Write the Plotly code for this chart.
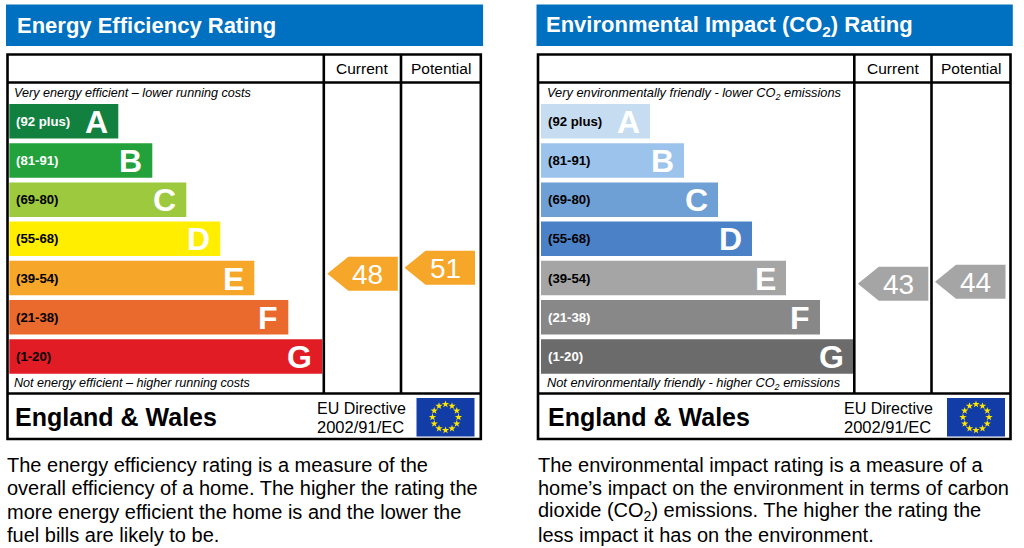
import plotly.graph_objects as go
import math

# ---------------- data ----------------
bands = ["A", "B", "C", "D", "E", "F", "G"]
band_labels = ["(92 plus)", "(81-91)", "(69-80)", "(55-68)", "(39-54)", "(21-38)", "(1-20)"]
band_low = [92, 81, 69, 55, 39, 21, 1]
band_high = [100, 91, 80, 68, 54, 38, 20]
energy_colors = ["#12813f", "#23a13b", "#9cc93d", "#ffee00", "#f6a629", "#ea6a2d", "#e21c25"]
env_colors = ["#c6dcf1", "#9cc3eb", "#6ea0d6", "#4b81c6", "#a5a5a5", "#888888", "#6b6b6b"]
energy_label_colors = ["white", "white", "black", "black", "black", "black", "black"]
env_label_colors = ["black", "black", "black", "black", "black", "white", "white"]
energy_current = 48
energy_potential = 51
env_current = 43
env_potential = 44

energy_title = "<b>Energy Efficiency Rating</b>"
env_title = "<b>Environmental Impact (CO<sub>2</sub>) Rating</b>"
energy_top_note = "<i>Very energy efficient – lower running costs</i>"
energy_bottom_note = "<i>Not energy efficient – higher running costs</i>"
env_top_note = "<i>Very environmentally friendly - lower CO<sub>2</sub> emissions</i>"
env_bottom_note = "<i>Not environmentally friendly - higher CO<sub>2</sub> emissions</i>"
column_headers = ["Current", "Potential"]
footer_region = "<b>England & Wales</b>"
footer_directive = ["EU Directive", "2002/91/EC"]
energy_text = [
    "The energy efficiency rating is a measure of the",
    "overall efficiency of a home. The higher the rating the",
    "more energy efficient the home is and the lower the",
    "fuel bills are likely to be.",
]
env_text = [
    "The environmental impact rating is a measure of a",
    "home’s impact on the environment in terms of carbon",
    "dioxide (CO<sub>2</sub>) emissions. The higher the rating the",
    "less impact it has on the environment.",
]

# ---------------- layout geometry (style) ----------------
W, H = 1024, 548
FONT = "Liberation Sans, Arial, sans-serif"
BLUE = "#0070c0"
FLAG = "#123da6"
TABLE_TOP, HEADER_BOT, FOOT_TOP, TABLE_BOT = 54.5, 82.5, 393.5, 439
BAND_TOP0, BAND_PITCH, BAND_H = 104, 39.2, 34.5
BAR_W0, BAR_WSTEP = 109, 34
ARROW_W, ARROW_TIP, ARROW_H = 70.5, 21, 34
LW = 2.6

panels = [
    dict(x0=7.5, x1=480.8, bar_left=9.3, colors=energy_colors, lab_colors=energy_label_colors,
         cur=energy_current, pot=energy_potential, title=energy_title,
         top=energy_top_note, bot=energy_bottom_note, text=energy_text,
         region_dx=5.5, dir_dx=307.5, note_dx=4, note_size=12.6, title_dx=7.5),
    dict(x0=538, x1=1010.5, bar_left=541, colors=env_colors, lab_colors=env_label_colors,
         cur=env_current, pot=env_potential, title=env_title,
         top=env_top_note, bot=env_bottom_note, text=env_text,
         region_dx=8, dir_dx=304, note_dx=6.5, note_size=12.8, title_dx=6),
]


def band_of(v):
    for i, (lo, hi) in enumerate(zip(band_low, band_high)):
        if lo <= v <= hi:
            return i
    return len(bands) - 1


def score_y(v):
    i = band_of(v)
    lo, hi = band_low[i], band_high[i]
    top = BAND_TOP0 + BAND_PITCH * i
    return top + 1 + (hi - v) / (hi - lo) * (BAND_H - 4.5)


fig = go.Figure()
shapes = []
ann = []

for p in panels:
    x0, x1 = p["x0"], p["x1"]
    col1, col2 = x0 + 316.3, x0 + 393.5
    # title bar
    shapes.append(dict(type="rect", x0=x0 - 1.5, x1=x1 + 2.3, y0=4.5, y1=46, fillcolor=BLUE,
                       line=dict(width=0), layer="below"))
    ann.append(dict(x=x0 + p["title_dx"], y=25.5, text=p["title"], xanchor="left", yanchor="middle",
                    showarrow=False, font=dict(family=FONT, size=22, color="white")))
    # table frame
    shapes.append(dict(type="rect", x0=x0, x1=x1, y0=TABLE_TOP, y1=TABLE_BOT,
                       line=dict(color="black", width=LW)))
    shapes.append(dict(type="line", x0=x0, x1=x1, y0=HEADER_BOT, y1=HEADER_BOT,
                       line=dict(color="black", width=LW)))
    shapes.append(dict(type="line", x0=x0, x1=x1, y0=FOOT_TOP, y1=FOOT_TOP,
                       line=dict(color="black", width=LW)))
    for cx in (col1, col2):
        shapes.append(dict(type="line", x0=cx, x1=cx, y0=TABLE_TOP, y1=FOOT_TOP,
                           line=dict(color="black", width=LW)))
    for hdr, cx in zip(column_headers, (col1, col2)):
        nxt = col2 if cx == col1 else x1
        ann.append(dict(x=(cx + nxt) / 2, y=68.5, text=hdr, showarrow=False,
                        xanchor="center", yanchor="middle",
                        font=dict(family=FONT, size=15.5, color="black")))
    # notes
    ann.append(dict(x=x0 + p["note_dx"], y=93, text=p["top"], xanchor="left", yanchor="middle",
                    showarrow=False, font=dict(family=FONT, size=p["note_size"], color="black")))
    ann.append(dict(x=x0 + p["note_dx"], y=383, text=p["bot"], xanchor="left", yanchor="middle",
                    showarrow=False, font=dict(family=FONT, size=p["note_size"], color="black")))

    # bands
    centers = [BAND_TOP0 + BAND_PITCH * i + BAND_H / 2 for i in range(len(bands))]
    widths = [BAR_W0 + BAR_WSTEP * i for i in range(len(bands))]
    fig.add_trace(go.Bar(orientation="h", y=centers, x=widths, base=[p["bar_left"]] * len(bands),
                         width=BAND_H, marker=dict(color=p["colors"], line=dict(width=0)),
                         hoverinfo="skip", showlegend=False))
    for i, b in enumerate(bands):
        ann.append(dict(x=p["bar_left"] + 5, y=centers[i], text="<b>%s</b>" % band_labels[i],
                        xanchor="left", yanchor="middle", showarrow=False,
                        font=dict(family=FONT, size=13.2, color=p["lab_colors"][i])))
        ann.append(dict(x=p["bar_left"] + widths[i] - 8, y=centers[i] + 0.5, text="<b>%s</b>" % b,
                        xanchor="right", yanchor="middle", showarrow=False,
                        font=dict(family=FONT, size=32, color="white")))

    # arrows
    for val, cx in ((p["cur"], col1), (p["pot"], col2)):
        yc = score_y(val)
        left = cx + 3.5
        right = left + ARROW_W
        xs = [left, left + ARROW_TIP, right, right, left + ARROW_TIP, left]
        ys = [yc, yc - ARROW_H / 2, yc - ARROW_H / 2, yc + ARROW_H / 2, yc + ARROW_H / 2, yc]
        fig.add_trace(go.Scatter(x=xs, y=ys, mode="lines", fill="toself",
                                 fillcolor=p["colors"][band_of(val)], line=dict(width=0),
                                 hoverinfo="skip", showlegend=False))
        ann.append(dict(x=left + 40.5, y=yc + 0.5, text=str(val), xanchor="center", yanchor="middle",
                        showarrow=False, font=dict(family=FONT, size=28, color="white")))

    # footer
    ann.append(dict(x=x0 + p["region_dx"], y=417, text=footer_region, xanchor="left", yanchor="middle",
                    showarrow=False, font=dict(family=FONT, size=25, color="black")))
    ann.append(dict(x=x0 + p["dir_dx"], y=408.5, text=footer_directive[0], xanchor="left",
                    yanchor="middle", showarrow=False, font=dict(family=FONT, size=16, color="black")))
    ann.append(dict(x=x0 + p["dir_dx"], y=426.5, text=footer_directive[1], xanchor="left",
                    yanchor="middle", showarrow=False, font=dict(family=FONT, size=16.5, color="black")))
    fx0, fx1, fy0, fy1 = x0 + 409, x0 + 467, 398, 436.5
    shapes.append(dict(type="rect", x0=fx0, x1=fx1, y0=fy0, y1=fy1, fillcolor=FLAG,
                       line=dict(width=0), layer="below"))
    fcx, fcy = (fx0 + fx1) / 2, (fy0 + fy1) / 2
    sx = [fcx + 13 * math.sin(2 * math.pi * k / 12) for k in range(12)]
    sy = [fcy - 13 * math.cos(2 * math.pi * k / 12) for k in range(12)]
    fig.add_trace(go.Scatter(x=sx, y=sy, mode="markers",
                             marker=dict(symbol="star", size=5.5, color="#ffe500", line=dict(width=0)),
                             hoverinfo="skip", showlegend=False))

    # explanatory paragraph
    for k, line in enumerate(p["text"]):
        ann.append(dict(x=x0 - 2.5, y=465 + 23.3 * k, text=line, xanchor="left", yanchor="middle",
                        showarrow=False, font=dict(family=FONT, size=20, color="black")))

fig.update_layout(
    width=W, height=H, margin=dict(l=0, r=0, t=0, b=0),
    paper_bgcolor="white", plot_bgcolor="white", barmode="overlay",
    xaxis=dict(range=[0, W], visible=False, fixedrange=True),
    yaxis=dict(range=[H, 0], visible=False, fixedrange=True),
    shapes=shapes, annotations=ann, showlegend=False,
)

fig.write_html("out.html", config={"displayModeBar": False},
               post_script="document.body.style.margin='0';document.body.style.overflow='hidden';")
